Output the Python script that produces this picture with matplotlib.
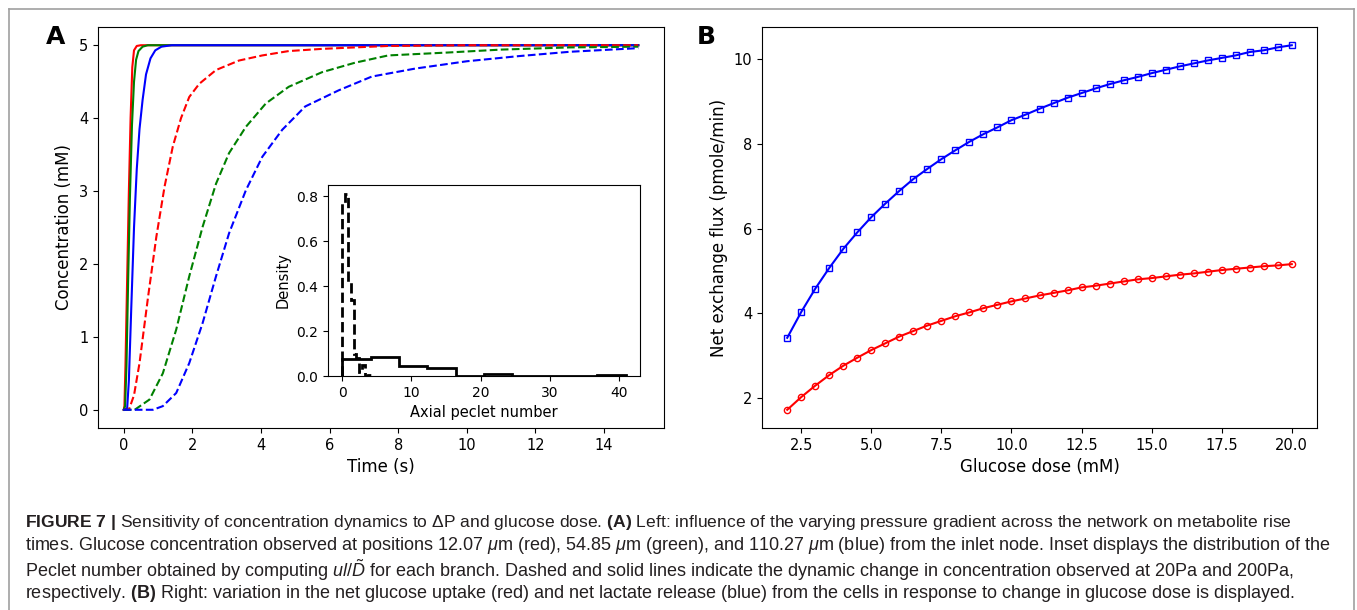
import matplotlib
matplotlib.use("Agg")
import matplotlib.pyplot as plt
from matplotlib.lines import Line2D

# ------------------------------------------
# Daten
# ------------------------------------------
# Panel A: Konzentration ueber Zeit, 200 Pa (durchgezogen) und 20 Pa (gestrichelt)
t_red_200 = [0, 0.02, 0.05, 0.10, 0.15, 0.20, 0.25, 0.30, 0.38, 0.50, 15]
c_red_200 = [0, 0.05, 0.60, 1.80, 3.00, 4.00, 4.70, 4.93, 4.99, 5.00, 5.00]
t_green_200 = [0, 0.04, 0.08, 0.13, 0.18, 0.24, 0.30, 0.36, 0.43, 0.55, 0.70, 15]
c_green_200 = [0, 0.05, 0.60, 1.80, 2.90, 3.90, 4.50, 4.80, 4.92, 4.98, 5.00, 5.00]
t_blue_200 = [0, 0.10, 0.15, 0.22, 0.30, 0.38, 0.46, 0.55, 0.65, 0.78, 0.92, 1.10, 1.40, 15]
c_blue_200 = [0, 0.02, 0.40, 1.40, 2.50, 3.30, 3.85, 4.25, 4.60, 4.82, 4.93, 4.98, 5.00, 5.00]

t_red_20 = [0, 0.15, 0.30, 0.46, 0.71, 0.95, 1.19, 1.43, 1.67, 1.91, 2.20, 2.69, 3.36,
            4.04, 4.81, 5.78, 7.70, 10.0, 15.0]
c_red_20 = [0, 0, 0.20, 0.64, 1.55, 2.37, 3.06, 3.61, 4.00, 4.29, 4.47, 4.66, 4.79,
            4.86, 4.92, 4.95, 4.99, 5.00, 5.00]
t_green_20 = [0, 0.32, 0.75, 1.14, 1.53, 1.91, 2.30, 2.69, 3.07, 3.56, 4.14, 4.81, 5.78,
              6.74, 7.71, 9.45, 11.0, 13.0, 15.0]
c_green_20 = [0, 0, 0.14, 0.50, 1.10, 1.83, 2.51, 3.10, 3.52, 3.88, 4.20, 4.43, 4.63,
              4.76, 4.86, 4.90, 4.94, 4.97, 4.98]
t_blue_20 = [0, 0.85, 1.14, 1.53, 1.91, 2.30, 2.69, 3.07, 3.56, 4.04, 4.62, 5.29, 6.26,
             7.23, 8.50, 10.0, 11.5, 13.0, 15.0]
c_blue_20 = [0, 0, 0.05, 0.23, 0.64, 1.19, 1.83, 2.42, 3.01, 3.47, 3.84, 4.16, 4.38,
             4.57, 4.68, 4.78, 4.85, 4.91, 4.96]

# Inset: Histogramm der axialen Peclet-Zahl
edges_20 = [0, 0.41, 0.82, 1.23, 1.64, 2.05, 2.46, 2.87, 3.28, 3.69, 4.10]
dens_20 = [0.77, 0.81, 0.42, 0.34, 0.10, 0.08, 0.02, 0.05, 0.00, 0.005]
edges_200 = [0, 4.1, 8.2, 12.3, 16.4, 20.5, 24.6, 28.7, 32.8, 36.9, 41.0]
dens_200 = [0.077, 0.083, 0.045, 0.035, 0.0, 0.007, 0.0, 0.0, 0.0, 0.005]

# Panel B: Netto-Austauschfluss ueber Glukosedosis
dose = [2.0, 2.5, 3.0, 3.5, 4.0, 4.5, 5.0, 5.5, 6.0, 6.5, 7.0, 7.5, 8.0, 8.5, 9.0, 9.5,
        10.0, 10.5, 11.0, 11.5, 12.0, 12.5, 13.0, 13.5, 14.0, 14.5, 15.0, 15.5, 16.0,
        16.5, 17.0, 17.5, 18.0, 18.5, 19.0, 19.5, 20.0]
lactate = [3.42, 4.03, 4.58, 5.07, 5.52, 5.91, 6.27, 6.59, 6.89, 7.17, 7.41, 7.64, 7.85,
           8.05, 8.23, 8.39, 8.56, 8.69, 8.83, 8.96, 9.09, 9.20, 9.31, 9.41, 9.50, 9.58,
           9.67, 9.75, 9.83, 9.90, 9.97, 10.03, 10.09, 10.17, 10.21, 10.28, 10.33]
glucose = [1.72, 2.02, 2.29, 2.54, 2.76, 2.95, 3.13, 3.29, 3.45, 3.58, 3.71, 3.82, 3.93,
           4.02, 4.12, 4.20, 4.28, 4.35, 4.42, 4.48, 4.54, 4.61, 4.65, 4.70, 4.75, 4.80,
           4.83, 4.87, 4.91, 4.94, 4.98, 5.02, 5.05, 5.08, 5.11, 5.13, 5.16]

caption_lines = [
    r"$\mathbf{FIGURE\ 7\ |}$ Sensitivity of concentration dynamics to ΔP and glucose dose. "
    r"$\mathbf{(A)}$ Left: influence of the varying pressure gradient across the network on metabolite rise",
    r"times. Glucose concentration observed at positions 12.07 $\mathit{μ}$m (red), 54.85 $\mathit{μ}$m (green), "
    r"and 110.27 $\mathit{μ}$m (blue) from the inlet node. Inset displays the distribution of the",
    r"Peclet number obtained by computing $\mathit{ul/\tilde{D}}$ for each branch. Dashed and solid lines "
    r"indicate the dynamic change in concentration observed at 20Pa and 200Pa,",
    r"respectively. $\mathbf{(B)}$ Right: variation in the net glucose uptake (red) and net lactate "
    r"release (blue) from the cells in response to change in glucose dose is displayed.",
]
caption_sizes = [12.6, 13, 13, 13]

plt.rcParams["mathtext.fontset"] = "custom"
plt.rcParams["mathtext.rm"] = "Liberation Sans"
plt.rcParams["mathtext.it"] = "Liberation Sans:italic"
plt.rcParams["mathtext.bf"] = "Liberation Sans:bold"

W, H = 1357, 610
fig = plt.figure(figsize=(W / 100, H / 100), dpi=100)

# ------------------------------------------
# Panel A
# ------------------------------------------
ax1 = fig.add_axes([98 / W, 1 - 428 / H, 566 / W, 401 / H])
ax1.plot(t_red_200, c_red_200, color="red", lw=1.5)
ax1.plot(t_green_200, c_green_200, color="green", lw=1.5)
ax1.plot(t_blue_200, c_blue_200, color="blue", lw=1.5)
ax1.plot(t_red_20, c_red_20, color="red", lw=1.5, ls="--")
ax1.plot(t_green_20, c_green_20, color="green", lw=1.5, ls="--")
ax1.plot(t_blue_20, c_blue_20, color="blue", lw=1.5, ls="--")
ax1.set_xticks(range(0, 15, 2))
ax1.set_yticks(range(0, 6))
ax1.tick_params(labelsize=10.5)
ax1.set_xlabel("Time (s)", fontsize=12)
ax1.set_ylabel("Concentration (mM)", fontsize=12)

# Inset
axin = fig.add_axes([328 / W, 1 - 376 / H, 312 / W, 191 / H])
axin.stairs(dens_20, edges_20, color="black", lw=2, ls="--")
axin.stairs(dens_200, edges_200, color="black", lw=2)
axin.set_xticks([0, 10, 20, 30, 40])
axin.set_yticks([0.0, 0.2, 0.4, 0.6, 0.8])
axin.tick_params(labelsize=10)
axin.set_xlabel("Axial peclet number", fontsize=10.5)
axin.set_ylabel("Density", fontsize=10.5)

# ------------------------------------------
# Panel B
# ------------------------------------------
ax2 = fig.add_axes([762 / W, 1 - 428 / H, 555 / W, 401 / H])
ax2.plot(dose, lactate, color="blue", lw=1.5, marker="s", ms=4.5, mfc="none")
ax2.plot(dose, glucose, color="red", lw=1.5, marker="o", ms=4.5, mfc="none")
ax2.set_yticks([2, 4, 6, 8, 10])
ax2.tick_params(labelsize=10.5)
ax2.set_xlabel("Glucose dose (mM)", fontsize=12)
ax2.set_ylabel("Net exchange flux (pmole/min)", fontsize=12)

# Panelbuchstaben
fig.text(56 / W, 1 - 37 / H, "A", fontsize=18, fontweight="bold", ha="center", va="center")
fig.text(706 / W, 1 - 37 / H, "B", fontsize=18, fontweight="bold", ha="center", va="center")

# Rahmen
frame_col = "#a0a0a0"
fig.add_artist(Line2D([9 / W, 9 / W], [0, 1 - 9 / H], color=frame_col, lw=1.2))
fig.add_artist(Line2D([9 / W, 1354 / W], [1 - 9 / H, 1 - 9 / H], color=frame_col, lw=1.2))
fig.add_artist(Line2D([1354 / W, 1354 / W], [0, 1 - 9 / H], color=frame_col, lw=1.2))

# Bildunterschrift
for i, line in enumerate(caption_lines):
    fig.text(25 / W, 1 - (522 + i * 24) / H, line, fontsize=caption_sizes[i],
             family="Liberation Sans", ha="left", va="center", color="#231f20")

fig.savefig("out.png", dpi=100)
